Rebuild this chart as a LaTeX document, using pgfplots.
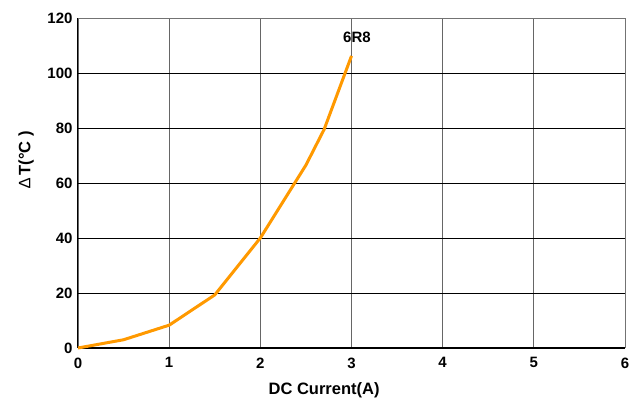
\documentclass[border=0pt]{standalone}
\usepackage{pgfplots}
\pgfplotsset{compat=1.18}
\usepackage{fontspec}
\setmainfont{Liberation Sans}
\definecolor{lineorange}{HTML}{FF9900}
\begin{document}
\begin{tikzpicture}
\useasboundingbox (-78pt,-55pt) rectangle (560pt,348pt);
\begin{axis}[
  scale only axis,
  width=547pt, height=330pt,
  xmin=0, xmax=6, ymin=0, ymax=120,
  xtick={0,1,2,3,4,5,6},
  ytick={0,20,40,60,80,100,120},
  /pgf/number format/assume math mode=true,
  tick label style={font=\fontsize{15}{17}\selectfont\bfseries},
  xticklabel style={yshift=-6pt},
  yticklabel style={xshift=-2pt},
  tick style={draw=none},
  axis line style={draw=none},
  xmajorgrids, ymajorgrids,
  x grid style={draw=black!60, line width=0.8pt},
  y grid style={draw=black, line width=0.8pt},
  xlabel={DC Current(A)},
  ylabel={\textmd{∆}\,T(°C )},
  label style={font=\fontsize{16.5}{18}\selectfont\bfseries},
  xlabel style={at={(axis description cs:0.45,0)}, anchor=center, yshift=-42pt},
  ylabel style={at={(axis description cs:-0.095,0.57)}, anchor=center},
  clip=false,
]
\draw[black!55, line width=0.8pt] (rel axis cs:0,1) -- (rel axis cs:1,1) -- (rel axis cs:1,0);
\draw[black, line width=1pt] (rel axis cs:1,0) -- (rel axis cs:0,0) -- (rel axis cs:0,1);
\addplot[lineorange, line width=3pt, line join=round] coordinates {
(0,0) (0.5,3) (1,8.3) (1.5,19.3) (2,40) (2.5,66.5) (2.7,79.5) (3,106.2)
};
\node[font=\fontsize{15}{17}\selectfont\bfseries, anchor=center] at (axis cs:3.06,113) {6R8};
\end{axis}
\end{tikzpicture}
\end{document}
